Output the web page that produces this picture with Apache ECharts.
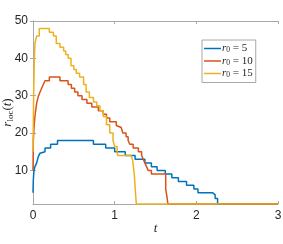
<!DOCTYPE html>
<html><head><meta charset="utf-8">
<script src="https://cdn.jsdelivr.net/npm/echarts@6/dist/echarts.min.js"></script>
<style>html,body{margin:0;padding:0;background:#fff}#c{width:283px;height:244px}</style>
</head><body><div id="c"></div>
<script>
const seriesNames = ['r0 = 5', 'r0 = 10', 'r0 = 15'];
const xTicks = [0, 1, 2, 3];
const yTicks = [10, 20, 30, 40, 50];

const tBlue = [0, 0.004, 0.012, 0.024, 0.045, 0.065, 0.086, 0.106, 0.147, 0.216, 0.30, 0.74, 0.89, 1.0, 1.13, 1.25, 1.37, 1.45, 1.52, 1.62, 1.70, 1.78, 1.88, 1.97, 2.02, 2.2, 2.23, 2.26, 3];
const vBlue = [4, 7.5, 10, 11, 12, 13.7, 14.6, 15, 16, 17, 18, 17, 16, 15, 14, 13, 12, 11, 10, 9, 8, 7, 6, 5, 4, 3.5, 2.5, 1, 1];

const tRed = [0, 0.004, 0.016, 0.028, 0.045, 0.065, 0.086, 0.106, 0.126, 0.147, 0.2, 0.33, 0.43, 0.47, 0.51, 0.55, 0.6, 0.66, 0.72, 0.8, 0.86, 0.9, 0.94, 1.02, 1.04, 1.08, 1.10, 1.14, 1.165, 1.185, 1.226, 1.29, 1.33, 1.35, 1.37, 1.39, 1.41, 1.45, 1.625, 1.64, 1.652, 3];
const vRed = [10, 18, 22.6, 25.3, 28, 29.8, 31, 32, 33, 34, 35, 34, 33, 32, 31, 30, 29, 28, 27, 26, 25, 24, 23, 22, 21.5, 21, 20, 19, 18, 17, 16, 15, 14, 13, 12, 11, 10, 9, 5, 3, 1, 1];

const tYel = [0, 0.008, 0.016, 0.024, 0.045, 0.077, 0.2, 0.25, 0.285, 0.33, 0.375, 0.4, 0.43, 0.465, 0.5, 0.53, 0.57, 0.62, 0.65, 0.69, 0.74, 0.78, 0.82, 0.86, 0.9, 0.94, 0.98, 1.0, 1.03, 1.04, 1.2, 1.22, 1.24, 1.255, 1.265, 3];
const vYel = [15, 30, 39.6, 44, 46, 48, 47, 46, 44, 43, 42, 41, 40, 38, 37, 36, 35, 33, 31, 29.5, 28.3, 27.3, 26, 24.4, 22.2, 20, 18, 16.4, 14.8, 14, 14, 12.8, 9, 4, 1, 1];

const colors = ['#0072BD', '#D95319', '#EDB120'];
const pairs = (t, v) => t.map((x, i) => [x, v[i]]);
const data = [pairs(tBlue, vBlue), pairs(tRed, vRed), pairs(tYel, vYel)];

const axisColor = '#a8a8a8';
const labelColor = '#262626';
const sans = 'Liberation Sans, Arial, sans-serif';
const serif = 'Liberation Serif, DejaVu Serif, serif';

const chart = echarts.init(document.getElementById('c'), null, {renderer: 'canvas'});
const baseX = {type: 'value', min: 0, max: 3, interval: 1,
  axisLine: {show: true, lineStyle: {color: axisColor, width: 1}},
  axisTick: {show: true, inside: true, length: 3, lineStyle: {color: axisColor}},
  splitLine: {show: false}};
const baseY = {type: 'value', min: 1, max: 50,
  axisLine: {show: true, lineStyle: {color: axisColor, width: 1}},
  axisTick: {show: true, inside: true, length: 3, lineStyle: {color: axisColor}, customValues: yTicks},
  splitLine: {show: false}};
chart.setOption({
  animation: false,
  grid: {left: 33, right: 5, top: 21, bottom: 40, containLabel: false, outerBoundsMode: 'none'},
  xAxis: [
    Object.assign({}, baseX, {position: 'bottom',
      axisLabel: {color: labelColor, fontFamily: sans, fontSize: 12, margin: 6},
      name: '{i|t}', nameLocation: 'middle', nameGap: 18, nameMoveOverlap: false,
      nameTextStyle: {rich: {i: {fontFamily: serif, fontStyle: 'italic', fontSize: 13, color: labelColor}}}}),
    Object.assign({}, baseX, {position: 'top', axisLabel: {show: false}})
  ],
  yAxis: [
    Object.assign({}, baseY, {position: 'left',
      axisLabel: {color: labelColor, fontFamily: sans, fontSize: 12, margin: 5, customValues: yTicks},
      name: '{i|r}{s|loc}{n|(}{i|t}{n|)}', nameLocation: 'middle', nameGap: 18, nameRotate: 90, nameMoveOverlap: false,
      nameTextStyle: {rich: {
        i: {fontFamily: serif, fontStyle: 'italic', fontSize: 13, color: labelColor},
        s: {fontFamily: serif, fontSize: 9, color: labelColor, padding: [6, 0, 0, 0]},
        n: {fontFamily: serif, fontSize: 13, color: labelColor}}}}),
    Object.assign({}, baseY, {position: 'right', axisLabel: {show: false}})
  ],
  legend: {
    orient: 'vertical', left: 202, top: 40,
    icon: 'rect', itemWidth: 17, itemHeight: 1.5, itemGap: 1,
    padding: [3, 3, 3, 2],
    borderColor: '#a8a8a8', borderWidth: 1, backgroundColor: '#fff',
    data: seriesNames,
    formatter: name => '{i|r}{s|0}{n| = ' + name.split('= ')[1] + '}',
    textStyle: {padding: [0, 0, 0, -4], rich: {
      i: {fontFamily: serif, fontStyle: 'italic', fontSize: 11, color: labelColor},
      s: {fontFamily: serif, fontSize: 7.5, color: labelColor, padding: [4, 0, 0, 0]},
      n: {fontFamily: serif, fontSize: 11, color: labelColor}}}
  },
  series: seriesNames.map((n, i) => ({
    name: n, type: 'line', step: 'end', data: data[i],
    showSymbol: false, symbol: 'none',
    lineStyle: {color: colors[i], width: 1.5}, itemStyle: {color: colors[i]}
  }))
});
</script></body></html>
